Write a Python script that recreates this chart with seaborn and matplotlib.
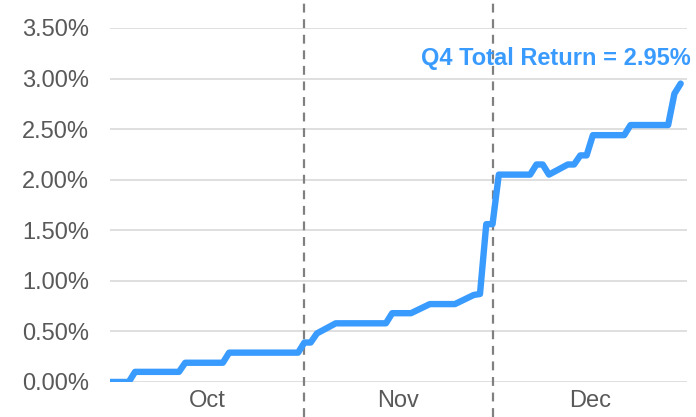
import pandas as pd
import seaborn as sns
import matplotlib.pyplot as plt
from matplotlib.ticker import FuncFormatter

# cumulative Q4 return (%), vertices
dates = ["2023-10-01", "2023-10-04", "2023-10-05", "2023-10-12", "2023-10-13",
         "2023-10-19", "2023-10-20", "2023-10-31", "2023-11-01", "2023-11-02",
         "2023-11-03", "2023-11-06", "2023-11-14", "2023-11-15", "2023-11-18",
         "2023-11-21", "2023-11-25", "2023-11-28", "2023-11-29", "2023-11-30",
         "2023-12-01", "2023-12-02", "2023-12-07", "2023-12-08", "2023-12-09",
         "2023-12-10", "2023-12-13", "2023-12-14", "2023-12-15", "2023-12-16",
         "2023-12-17", "2023-12-22", "2023-12-23", "2023-12-29", "2023-12-30",
         "2023-12-31"]
returns = [0.00, 0.00, 0.10, 0.10, 0.19,
           0.19, 0.29, 0.29, 0.39, 0.39,
           0.48, 0.58, 0.58, 0.68, 0.68,
           0.77, 0.77, 0.86, 0.87, 1.56,
           1.56, 2.05, 2.05, 2.15, 2.15,
           2.05, 2.15, 2.15, 2.24, 2.24,
           2.44, 2.44, 2.54, 2.54, 2.85,
           2.95]

month_edges = ["2023-10-01", "2023-11-01", "2023-12-01", "2024-01-01"]
month_names = ["Oct", "Nov", "Dec"]
y_ticks = [0.0, 0.5, 1.0, 1.5, 2.0, 2.5, 3.0, 3.5]

blue = "#3A9BFF"
grey_text = "#595959"

sns.set_style("white")
plt.rcParams["font.family"] = ["Liberation Sans", "DejaVu Sans"]

df = pd.DataFrame({"date": pd.to_datetime(dates), "ret": returns})
edges = pd.to_datetime(month_edges)

fig = plt.figure(figsize=(6.96, 4.17), dpi=100)
ax = fig.add_axes([0.158, 0.084, 0.829, 0.849])

sns.lineplot(data=df, x="date", y="ret", ax=ax, color=blue, linewidth=4.6,
             solid_capstyle="round", solid_joinstyle="round", zorder=3)

# grid
for v in y_ticks:
    ax.axhline(v, color="#D9D9D9", linewidth=1.2, zorder=1)

# month separators
for e in edges[1:-1]:
    ax.axvline(e, ymin=-0.1, ymax=1.08, clip_on=False, color="#808080",
               linewidth=1.6, linestyle=(0, (4, 3)), zorder=2)

ax.set_xlim(edges[0], edges[-1])
ax.set_ylim(0, 3.5)
ax.set_yticks(y_ticks)
ax.yaxis.set_major_formatter(FuncFormatter(lambda v, _: f"{v:.2f}%"))

mids = [edges[i] + (edges[i + 1] - edges[i]) / 2 for i in range(len(month_names))]
ax.set_xticks(mids)
ax.set_xticklabels(month_names)
ax.tick_params(axis="both", length=0, labelsize=17, labelcolor=grey_text)
ax.tick_params(axis="y", pad=15)
ax.tick_params(axis="x", pad=5.5)
ax.set_xlabel("")
ax.set_ylabel("")
sns.despine(ax=ax, left=True, bottom=True)

ax.annotate(f"Q4 Total Return = {returns[-1]:.2f}%",
            xy=(df["date"].iloc[-1], returns[-1]), xytext=(7, 18),
            textcoords="offset points", ha="right", va="center",
            fontsize=17, fontweight="bold", color=blue, zorder=4)

fig.savefig("out.png", dpi=100)
